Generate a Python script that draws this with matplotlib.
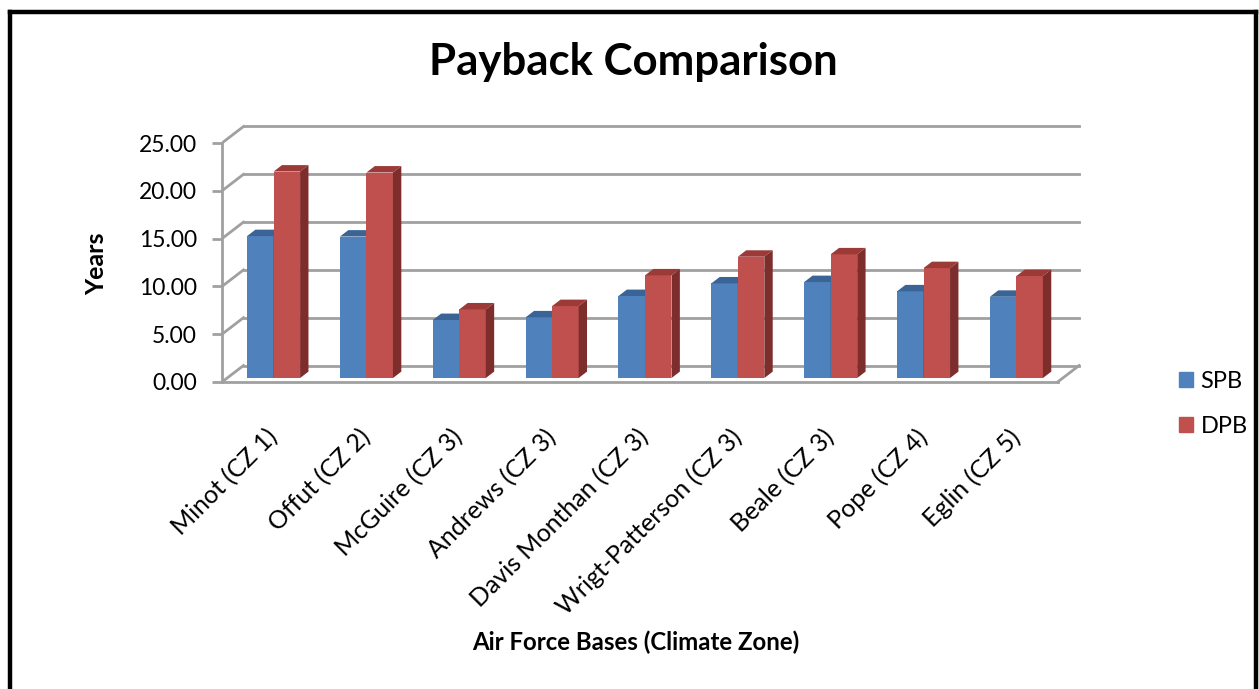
import numpy as np
import matplotlib.pyplot as plt
from matplotlib.patches import Polygon, Patch
from matplotlib.lines import Line2D

plt.rcParams['font.family'] = ['Lato', 'DejaVu Sans']

bases = ['Minot (CZ 1)', 'Offut (CZ 2)', 'McGuire (CZ 3)', 'Andrews (CZ 3)',
         'Davis Monthan (CZ 3)', 'Wrigt-Patterson (CZ 3)', 'Beale (CZ 3)',
         'Pope (CZ 4)', 'Eglin (CZ 5)']
spb = [14.85, 14.8, 6.07, 6.35, 8.58, 9.9, 10.04, 9.07, 8.5]
dpb = [21.6, 21.5, 7.18, 7.53, 10.74, 12.69, 12.94, 11.5, 10.67]
yticks = [0, 5, 10, 15, 20, 25]

W, H = 1259, 689
fig = plt.figure(figsize=(W / 100, H / 100), dpi=100)

# axes placed in pixels so that 1 category = ~92.85 px, 1 year = ~9.56 px
px_cat, px_year = 92.85, 9.56
x0, y0 = 222, 382
ax_l, ax_r, ax_t, ax_b = x0, 1110, 115, 392
ax = fig.add_axes([ax_l / W, 1 - ax_b / H, (ax_r - ax_l) / W, (ax_b - ax_t) / H])
ax.set_xlim(0, (ax_r - ax_l) / px_cat)
ax.set_ylim(-(ax_b - y0) / px_year, (y0 - ax_t) / px_year)

n = len(bases)
DX, DY = 21.5 / px_cat, 16.5 / px_year   # depth of the 3d box
f0, f1 = 0.24, 0.63                      # bar depth range
grid_c = '#a0a0a0'

# back wall gridlines and side wall diagonals
for t in yticks:
    ax.plot([DX, n + DX], [t + DY, t + DY], color=grid_c, lw=2, zorder=1)
    ax.plot([0, DX], [t, t + DY], color=grid_c, lw=2, zorder=1)
# floor
ax.plot([0, n], [0, 0], color=grid_c, lw=2, zorder=1)
ax.plot([n, n + DX], [0, DY], color=grid_c, lw=2, zorder=1)

bw = 26.5 / px_cat
bx, by = f0 * DX, f0 * DY
ddx, ddy = (f1 - f0) * DX, (f1 - f0) * DY
cols = [('#4f81bd', '#3a6496', '#2f5380'), ('#c0504d', '#9c3a37', '#7d2e2c')]

for i in range(n):
    c = i + 0.5 + bx
    for k, (vals, (cf, ct, cs)) in enumerate(zip([spb, dpb], cols)):
        v = vals[i]
        xl = c - bw if k == 0 else c
        xr = xl + bw
        ax.bar(xl, v, width=bw, bottom=by, align='edge', color=cf, zorder=3 + k)
        ax.add_patch(Polygon([(xl, v + by), (xr, v + by), (xr + ddx, v + by + ddy),
                              (xl + ddx, v + by + ddy)], closed=True, fc=ct, ec='none',
                             zorder=3 + k))
        ax.add_patch(Polygon([(xr, by), (xr, v + by), (xr + ddx, v + by + ddy),
                              (xr + ddx, by + ddy)], closed=True, fc=cs, ec='none',
                             zorder=3 + k))

for s in ['top', 'right', 'bottom']:
    ax.spines[s].set_visible(False)
ax.spines['left'].set_bounds(0, 25)
ax.spines['left'].set_color(grid_c)
ax.spines['left'].set_linewidth(2)
ax.set_yticks(yticks)
ax.set_yticklabels(['%.2f' % t for t in yticks], fontsize=16.5)
ax.tick_params(axis='y', length=7, width=2, color=grid_c, pad=11)

ax.set_xticks(np.arange(n) + 0.5 + bx - 0.09)
ax.set_xticklabels(bases, rotation=45, ha='right', rotation_mode='anchor', fontsize=18)
ax.tick_params(axis='x', length=0, pad=24)
ax.patch.set_visible(False)

fig.text(633 / W, 1 - 62 / H, 'Payback Comparison', ha='center', va='center',
         fontsize=31.5, fontweight='bold')
fig.text(97 / W, 1 - 264 / H, 'Years', rotation=90, ha='center', va='center',
         fontsize=18, fontweight='bold')
fig.text(636 / W, 1 - 642 / H, 'Air Force Bases (Climate Zone)', ha='center', va='center',
         fontsize=17.3, fontweight='bold')

handles = [Patch(color=cols[0][0], label='SPB'), Patch(color=cols[1][0], label='DPB')]
fig.legend(handles=handles, loc='upper left', bbox_to_anchor=(1158 / W, 1 - 350 / H),
           frameon=False, fontsize=17, handlelength=0.6, handleheight=0.6,
           handletextpad=0.3, labelspacing=1.0)

# chart border
for xs, ys in [([10.5, 10.5], [0, 11.5]), ([10.5, 1256], [11.5, 11.5]),
               ([1256, 1256], [11.5, 0])]:
    fig.add_artist(Line2D([x / W for x in xs], [1 - y / H if y else 0 for y in ys],
                          color='black', lw=3.2))

fig.savefig('out.png', dpi=100)
